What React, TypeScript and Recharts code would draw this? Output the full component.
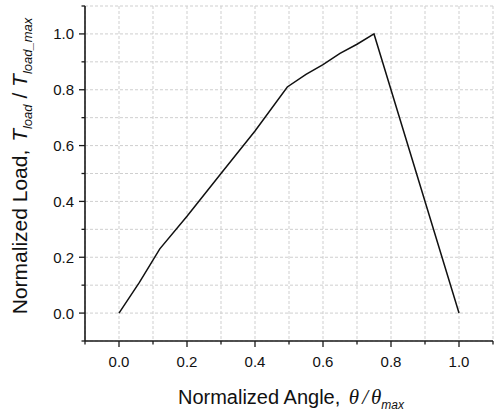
import { LineChart, Line, XAxis, YAxis, CartesianGrid } from 'recharts';

const ANGLE = [0, 0.06, 0.12, 0.2, 0.3, 0.4, 0.495, 0.55, 0.6, 0.65, 0.7, 0.75, 1.0];
const LOAD = [0, 0.11, 0.23, 0.347, 0.5, 0.652, 0.81, 0.855, 0.89, 0.93, 0.963, 1.0, 0];

// every tenth gets a grid line and a tick; even tenths from 0 to 1 are labelled
const AXIS_TICKS = [-0.1, 0, 0.1, 0.2, 0.3, 0.4, 0.5, 0.6, 0.7, 0.8, 0.9, 1.0, 1.1];
const MAJOR_TICKS = [0, 0.2, 0.4, 0.6, 0.8, 1.0];

const FONT = '"Liberation Sans", Arial, sans-serif';
const SERIF = '"Liberation Serif", "Times New Roman", serif';
const AXIS_COLOR = '#1a1a1a';

const data = ANGLE.map((x, i) => ({ x, load: LOAD[i] }));

const isMajor = (v: number) => MAJOR_TICKS.some((m) => Math.abs(m - v) < 1e-6);

function XTick({ x, y, payload }: any) {
  const major = isMajor(payload.value);
  return (
    <g>
      <line x1={x} x2={x} y1={y} y2={y + (major ? 6 : 3.5)} stroke={AXIS_COLOR} strokeWidth={1.3} />
      {major && (
        <text x={x} y={y + 26} textAnchor="middle" fontFamily={FONT} fontSize={15} fill="#111">
          {payload.value.toFixed(1)}
        </text>
      )}
    </g>
  );
}

function YTick({ x, y, payload }: any) {
  const major = isMajor(payload.value);
  return (
    <g>
      <line x1={x - (major ? 6 : 3.5)} x2={x} y1={y} y2={y} stroke={AXIS_COLOR} strokeWidth={1.3} />
      {major && (
        <text x={x - 11} y={y + 5.5} textAnchor="end" fontFamily={FONT} fontSize={15} fill="#111">
          {payload.value.toFixed(1)}
        </text>
      )}
    </g>
  );
}

function XTitle({ viewBox }: any) {
  const cx = viewBox.x + viewBox.width / 2;
  return (
    <text x={cx + 2} y={404} textAnchor="middle" fontFamily={FONT} fontSize={20} fill="#111">
      Normalized Angle,{' '}
      <tspan fontFamily={SERIF} fontStyle="italic" fontSize={21} dx={3}>θ</tspan>
      <tspan fontFamily={SERIF} fontStyle="italic" fontSize={21} dx={3}>/</tspan>
      <tspan fontFamily={SERIF} fontStyle="italic" fontSize={21} dx={3}>θ</tspan>
      <tspan fontStyle="italic" fontSize={12} dy={5}>max</tspan>
    </text>
  );
}

function YTitle() {
  const cx = 27;
  const cy = 166;
  return (
    <text
      x={cx}
      y={cy}
      transform={`rotate(-90 ${cx} ${cy})`}
      textAnchor="middle"
      fontFamily={FONT}
      fontSize={21}
      fill="#111"
    >
      Normalized Load,{' '}
      <tspan fontStyle="italic" dx={2}>T</tspan>
      <tspan fontStyle="italic" fontSize={13} dy={5}>load</tspan>
      <tspan dy={-5}> / </tspan>
      <tspan fontStyle="italic">T</tspan>
      <tspan fontStyle="italic" fontSize={13} dy={5}>load_max</tspan>
    </text>
  );
}

export default function App() {
  return (
    <div style={{ position: 'absolute', left: 0, top: 0, background: '#fff' }}>
      <LineChart width={494} height={416} data={data} margin={{ top: 6, right: 1, bottom: 0, left: 0 }}>
        <CartesianGrid stroke="#cfcfcf" strokeDasharray="3 2" strokeWidth={1} />
        <XAxis
          dataKey="x"
          type="number"
          domain={[-0.1, 1.1]}
          ticks={AXIS_TICKS}
          interval={0}
          allowDataOverflow
          height={75}
          tickSize={0}
          tickMargin={0}
          tickLine={false}
          tick={<XTick />}
          axisLine={{ stroke: AXIS_COLOR, strokeWidth: 1.6 }}
          label={<XTitle />}
        />
        <XAxis
          xAxisId="top"
          orientation="top"
          type="number"
          domain={[-0.1, 1.1]}
          height={0}
          tick={false}
          tickLine={false}
          axisLine={{ stroke: AXIS_COLOR, strokeWidth: 1.6 }}
        />
        <YAxis
          type="number"
          domain={[-0.1, 1.1]}
          ticks={AXIS_TICKS}
          interval={0}
          allowDataOverflow
          width={85}
          tickSize={0}
          tickMargin={0}
          tickLine={false}
          tick={<YTick />}
          axisLine={{ stroke: AXIS_COLOR, strokeWidth: 1.6 }}
          label={<YTitle />}
        />
        <Line
          type="linear"
          dataKey="load"
          stroke="#111"
          strokeWidth={1.5}
          dot={false}
          isAnimationActive={false}
        />
      </LineChart>
    </div>
  );
}
